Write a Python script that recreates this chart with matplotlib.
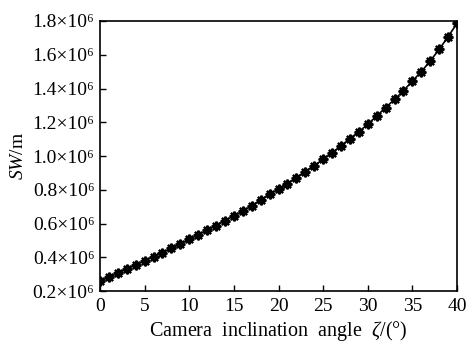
import matplotlib
matplotlib.use("Agg")
import matplotlib.pyplot as plt

plt.rcParams['font.family'] = ['Liberation Serif', 'DejaVu Serif']
plt.rcParams['mathtext.fontset'] = 'custom'
plt.rcParams['mathtext.rm'] = 'Liberation Serif'
plt.rcParams['mathtext.it'] = 'Liberation Serif:italic'

angle = list(range(0, 41))
sw = [0.259, 0.281, 0.306, 0.330, 0.354, 0.378, 0.403, 0.428, 0.452, 0.479,
      0.506, 0.533, 0.560, 0.588, 0.617, 0.645, 0.673, 0.705, 0.739, 0.772,
      0.804, 0.837, 0.870, 0.908, 0.943, 0.980, 1.019, 1.060, 1.103, 1.144,
      1.188, 1.237, 1.287, 1.335, 1.387, 1.444, 1.500, 1.563, 1.632, 1.707,
      1.786]
sw = [v * 1e6 for v in sw]

yticks = [0.2e6, 0.4e6, 0.6e6, 0.8e6, 1.0e6, 1.2e6, 1.4e6, 1.6e6, 1.8e6]
ytick_labels = ['0.2×10⁶', '0.4×10⁶', '0.6×10⁶', '0.8×10⁶', '1.0×10⁶',
                '1.2×10⁶', '1.4×10⁶', '1.6×10⁶', '1.8×10⁶']
xticks = [0, 5, 10, 15, 20, 25, 30, 35, 40]

fig = plt.figure(figsize=(4.66, 3.42), dpi=100)
ax = fig.add_axes([0.2146, 0.1491, 0.7661, 0.7895])

ax.plot(angle, sw, color='black', linewidth=1.2,
        marker=(8, 2, 0), markersize=7, markeredgewidth=1.6)

ax.set_xlim(0, 40)
ax.set_ylim(0.2e6, 1.8e6)
ax.set_xticks(xticks)
ax.set_yticks(yticks)
ax.set_yticklabels(ytick_labels)
ax.tick_params(direction='in', length=4, width=1, labelsize=14,
               top=False, right=False)
ax.tick_params(axis='y', pad=4)
ax.tick_params(axis='x', pad=5)
for s in ax.spines.values():
    s.set_linewidth(1.2)

ax.set_xlabel(r'Camera  inclination  angle  $\zeta$/(°)', fontsize=14.5, labelpad=3)
ax.set_ylabel(r'$SW$/m', fontsize=14, labelpad=4)

fig.savefig('out.png', dpi=100)
